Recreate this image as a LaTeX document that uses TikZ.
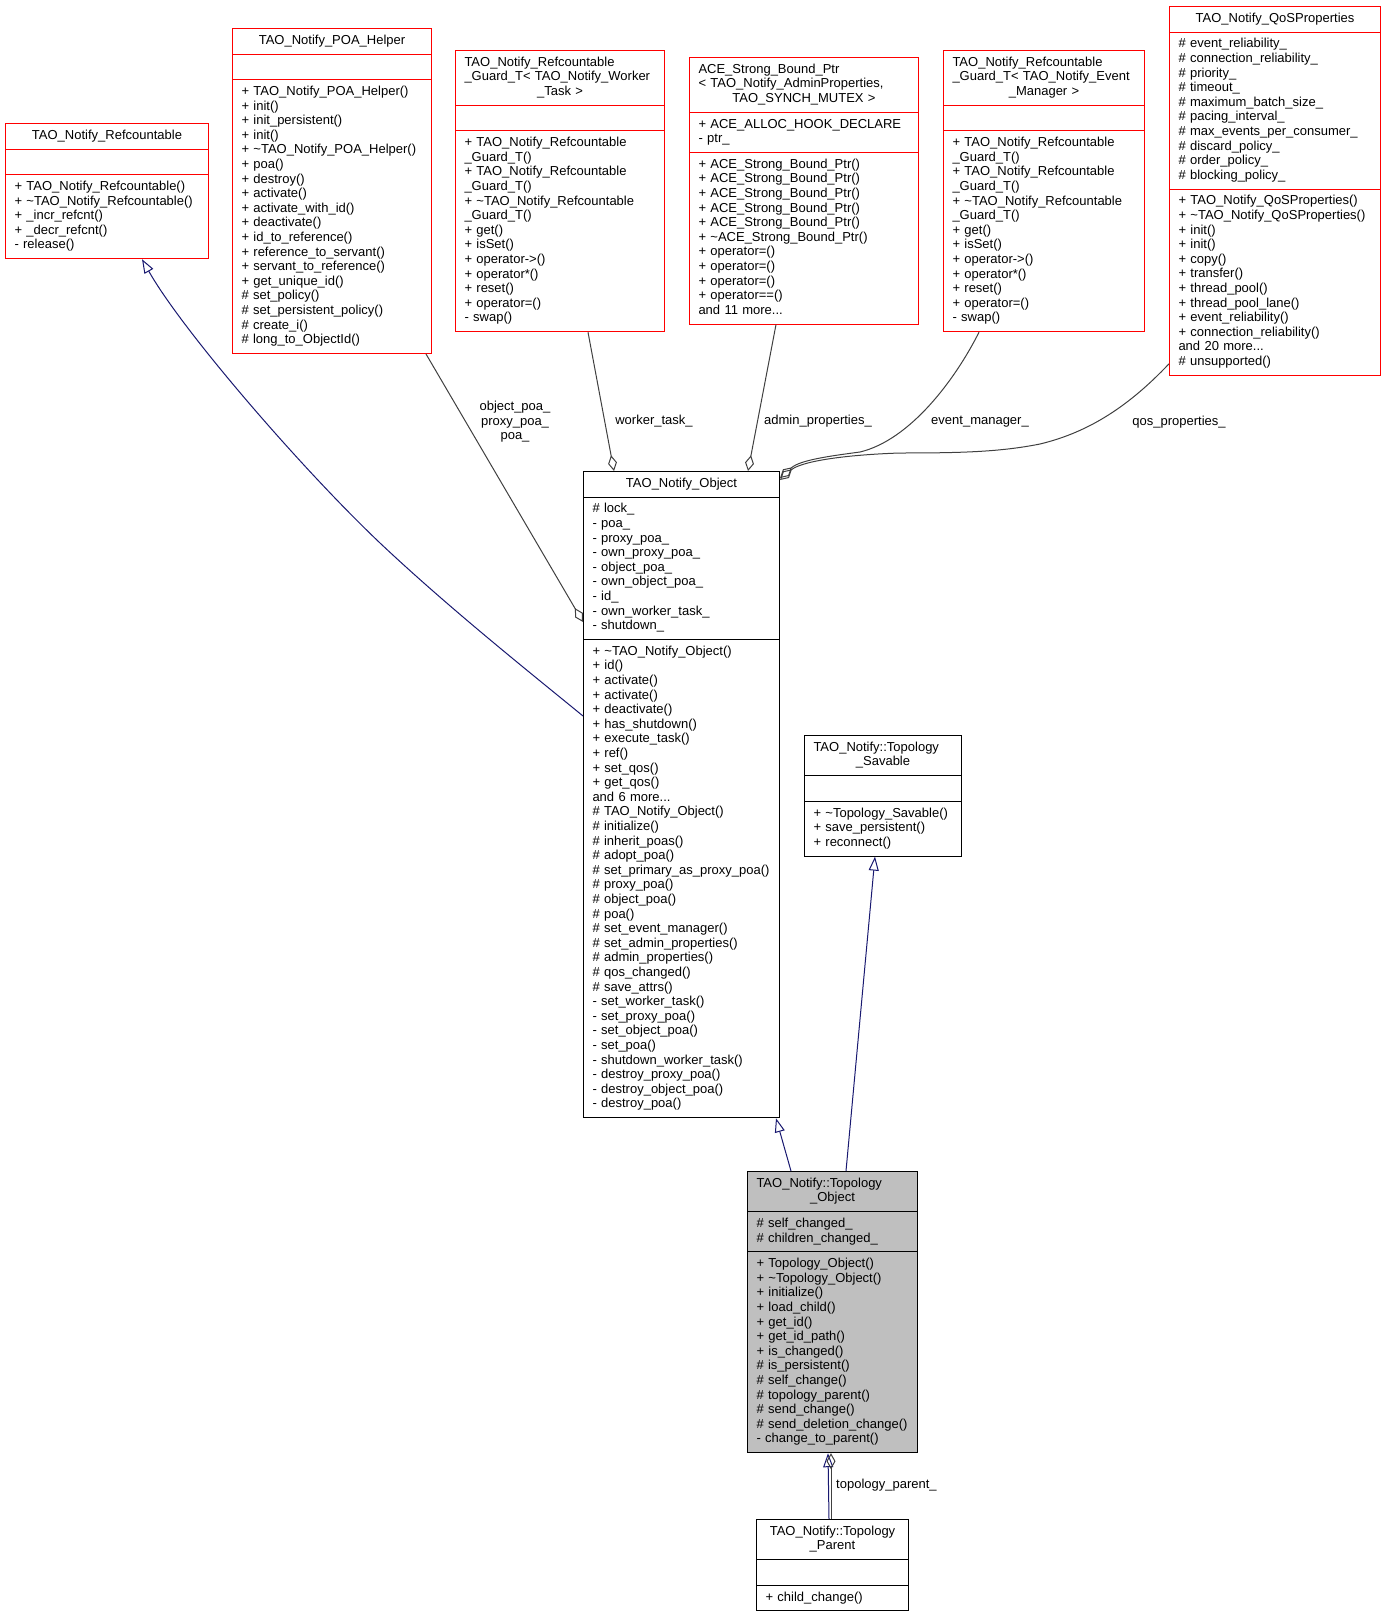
\documentclass[tikz,border=0pt]{standalone}
\usepackage{fontspec}
\setmainfont{Liberation Sans}
\usetikzlibrary{shapes.multipart,arrows.meta,calc}

\definecolor{edgenavy}{HTML}{191970}
\definecolor{edgegray}{HTML}{404040}
\definecolor{boxred}{HTML}{FF0000}
\definecolor{boxfill}{HTML}{BFBFBF}

\newcommand{\midline}[1]{\hspace*{\fill}#1\strut\hspace*{\fill}\mbox{}}

\tikzset{
  classbox/.style={rectangle split, rectangle split parts=3, draw=#1, line width=1pt,
    fill=white, anchor=north west, inner xsep=9pt, inner ysep=5pt, align=left,
    font=\fontsize{13}{14.6}\selectfont},
  classbox/.default=black,
  inherit/.style={draw=edgenavy, line width=1pt, {Triangle[open,length=14pt,width=10pt]}-},
  aggr/.style={draw=edgegray, line width=1pt, {Diamond[open,length=16pt,width=9pt]}-},
  edgelabel/.style={font=\fontsize{13}{14.6}\selectfont, align=center, inner sep=0pt}
}

\begin{document}
\begin{tikzpicture}[x=1pt,y=-1pt]
\useasboundingbox (0,0) rectangle (1385,1616);

% base and member classes
\node[classbox=boxred, text width=185pt] (refc) at (5,123)
  {\midline{TAO\_Notify\_Refcountable}
   \nodepart{two}\strut
   \nodepart{three}\strut + TAO\_Notify\_Refcountable()\\
   + \textasciitilde TAO\_Notify\_Refcountable()\\
   + \_incr\_refcnt()\\
   + \_decr\_refcnt()\\
   - release()\strut};

\node[classbox=boxred, text width=181pt] (poahelper) at (232,28)
  {\midline{TAO\_Notify\_POA\_Helper}
   \nodepart{two}\strut
   \nodepart{three}\strut + TAO\_Notify\_POA\_Helper()\\
   + init()\\
   + init\_persistent()\\
   + init()\\
   + \textasciitilde TAO\_Notify\_POA\_Helper()\\
   + poa()\\
   + destroy()\\
   + activate()\\
   + activate\_with\_id()\\
   + deactivate()\\
   + id\_to\_reference()\\
   + reference\_to\_servant()\\
   + servant\_to\_reference()\\
   + get\_unique\_id()\\
   \# set\_policy()\\
   \# set\_persistent\_policy()\\
   \# create\_i()\\
   \# long\_to\_ObjectId()\strut};

\node[classbox=boxred, text width=191pt] (guardworker) at (455,50)
  {\strut TAO\_Notify\_Refcountable\\
   \_Guard\_T<~TAO\_Notify\_Worker\\
   \midline{\_Task~>}
   \nodepart{two}\strut
   \nodepart{three}\strut + TAO\_Notify\_Refcountable\\
   \_Guard\_T()\\
   + TAO\_Notify\_Refcountable\\
   \_Guard\_T()\\
   + \textasciitilde TAO\_Notify\_Refcountable\\
   \_Guard\_T()\\
   + get()\\
   + isSet()\\
   + operator->()\\
   + operator*()\\
   + reset()\\
   + operator=()\\
   - swap()\strut};

\node[classbox=boxred, text width=211pt] (strongptr) at (689,57)
  {\strut ACE\_Strong\_Bound\_Ptr\\
   <~TAO\_Notify\_AdminProperties,\\
   \midline{TAO\_SYNCH\_MUTEX~>}
   \nodepart{two}\strut + ACE\_ALLOC\_HOOK\_DECLARE\\
   - ptr\_\strut
   \nodepart{three}\strut + ACE\_Strong\_Bound\_Ptr()\\
   + ACE\_Strong\_Bound\_Ptr()\\
   + ACE\_Strong\_Bound\_Ptr()\\
   + ACE\_Strong\_Bound\_Ptr()\\
   + ACE\_Strong\_Bound\_Ptr()\\
   + \textasciitilde ACE\_Strong\_Bound\_Ptr()\\
   + operator=()\\
   + operator=()\\
   + operator=()\\
   + operator==()\\
   and 11 more...\strut};

\node[classbox=boxred, text width=183pt] (guardevent) at (943,50)
  {\strut TAO\_Notify\_Refcountable\\
   \_Guard\_T<~TAO\_Notify\_Event\\
   \midline{\_Manager~>}
   \nodepart{two}\strut
   \nodepart{three}\strut + TAO\_Notify\_Refcountable\\
   \_Guard\_T()\\
   + TAO\_Notify\_Refcountable\\
   \_Guard\_T()\\
   + \textasciitilde TAO\_Notify\_Refcountable\\
   \_Guard\_T()\\
   + get()\\
   + isSet()\\
   + operator->()\\
   + operator*()\\
   + reset()\\
   + operator=()\\
   - swap()\strut};

\node[classbox=boxred, text width=193pt] (qos) at (1169,6)
  {\midline{TAO\_Notify\_QoSProperties}
   \nodepart{two}\strut \# event\_reliability\_\\
   \# connection\_reliability\_\\
   \# priority\_\\
   \# timeout\_\\
   \# maximum\_batch\_size\_\\
   \# pacing\_interval\_\\
   \# max\_events\_per\_consumer\_\\
   \# discard\_policy\_\\
   \# order\_policy\_\\
   \# blocking\_policy\_\strut
   \nodepart{three}\strut + TAO\_Notify\_QoSProperties()\\
   + \textasciitilde TAO\_Notify\_QoSProperties()\\
   + init()\\
   + init()\\
   + copy()\\
   + transfer()\\
   + thread\_pool()\\
   + thread\_pool\_lane()\\
   + event\_reliability()\\
   + connection\_reliability()\\
   and 20 more...\\
   \# unsupported()\strut};

% central class
\node[classbox, text width=178pt] (notifyobj) at (583,471)
  {\midline{TAO\_Notify\_Object}
   \nodepart{two}\strut \# lock\_\\
   - poa\_\\
   - proxy\_poa\_\\
   - own\_proxy\_poa\_\\
   - object\_poa\_\\
   - own\_object\_poa\_\\
   - id\_\\
   - own\_worker\_task\_\\
   - shutdown\_\strut
   \nodepart{three}\strut + \textasciitilde TAO\_Notify\_Object()\\
   + id()\\
   + activate()\\
   + activate()\\
   + deactivate()\\
   + has\_shutdown()\\
   + execute\_task()\\
   + ref()\\
   + set\_qos()\\
   + get\_qos()\\
   and 6 more...\\
   \# TAO\_Notify\_Object()\\
   \# initialize()\\
   \# inherit\_poas()\\
   \# adopt\_poa()\\
   \#~set\_primary\_as\_proxy\_poa()\\
   \# proxy\_poa()\\
   \# object\_poa()\\
   \# poa()\\
   \# set\_event\_manager()\\
   \# set\_admin\_properties()\\
   \# admin\_properties()\\
   \# qos\_changed()\\
   \# save\_attrs()\\
   - set\_worker\_task()\\
   - set\_proxy\_poa()\\
   - set\_object\_poa()\\
   - set\_poa()\\
   - shutdown\_worker\_task()\\
   - destroy\_proxy\_poa()\\
   - destroy\_object\_poa()\\
   - destroy\_poa()\strut};

\node[classbox, text width=139pt] (savable) at (804,735)
  {\strut TAO\_Notify::Topology\\
   \midline{\_Savable}
   \nodepart{two}\strut
   \nodepart{three}\strut + \textasciitilde Topology\_Savable()\\
   + save\_persistent()\\
   + reconnect()\strut};

\node[classbox, fill=boxfill, text width=152pt] (topoobj) at (747,1171)
  {\strut TAO\_Notify::Topology\\
   \midline{\_Object}
   \nodepart{two}\strut \# self\_changed\_\\
   \# children\_changed\_\strut
   \nodepart{three}\strut + Topology\_Object()\\
   + \textasciitilde Topology\_Object()\\
   + initialize()\\
   + load\_child()\\
   + get\_id()\\
   + get\_id\_path()\\
   + is\_changed()\\
   \# is\_persistent()\\
   \# self\_change()\\
   \# topology\_parent()\\
   \# send\_change()\\
   \# send\_deletion\_change()\\
   - change\_to\_parent()\strut};

\node[classbox, text width=134pt] (topoparent) at (756,1519)
  {\midline{TAO\_Notify::Topology}\\
   \midline{\_Parent}
   \nodepart{two}\strut
   \nodepart{three}\strut + child\_change()\strut};

% inheritance
\draw[inherit] ($(refc.south west)+(137,0)$) .. controls (182,330) and (300,467) .. (380,543)
  .. controls (450,609) and (533,675) .. ($(notifyobj.north west)+(0,245)$);
\draw[inherit] ($(notifyobj.south east)+(-4,0)$) -- ($(topoobj.north west)+(44,0)$);
\draw[inherit] ($(savable.south west)+(71,0)$) -- ($(topoobj.north west)+(99,0)$);
\draw[inherit] ($(topoobj.south west)+(81,0)$) -- ($(topoparent.north west)+(73,0)$);

% members
\draw[aggr] ($(notifyobj.north west)+(0,151)$) -- ($(poahelper.south west)+(194,0)$);
\draw[aggr] ($(notifyobj.north west)+(31,0)$) -- ($(guardworker.south west)+(133,0)$);
\draw[aggr] ($(notifyobj.north west)+(165,0)$) -- ($(strongptr.south west)+(87,0)$);
\draw[aggr] ($(notifyobj.north east)+(0,7)$) .. controls (800,460) and (830,456) .. (860,452)
  .. controls (910,440) and (955,380) .. ($(guardevent.south west)+(36,0)$);
\draw[aggr] ($(notifyobj.north east)+(0,9)$) .. controls (800,462) and (840,455) .. (900,453)
  .. controls (960,453) and (1000,452) .. (1040,444)
  .. controls (1090,432) and (1130,405) .. ($(qos.south west)+(0,-12)$);
\draw[aggr] ($(topoobj.south west)+(84,0)$) -- ($(topoparent.north west)+(75,0)$);

\node[edgelabel] (lblpoa) at (515,422) {object\_poa\_\\proxy\_poa\_\\poa\_};
\node[edgelabel] (lblworker) at (654,421) {worker\_task\_};
\node[edgelabel] (lbladmin) at (818,421) {admin\_properties\_};
\node[edgelabel] (lblevent) at (980,422) {event\_manager\_};
\node[edgelabel] (lblqos) at (1179,422) {qos\_properties\_};
\node[edgelabel, anchor=west] (lblparent) at (836,1485) {topology\_parent\_};
\end{tikzpicture}
\end{document}
